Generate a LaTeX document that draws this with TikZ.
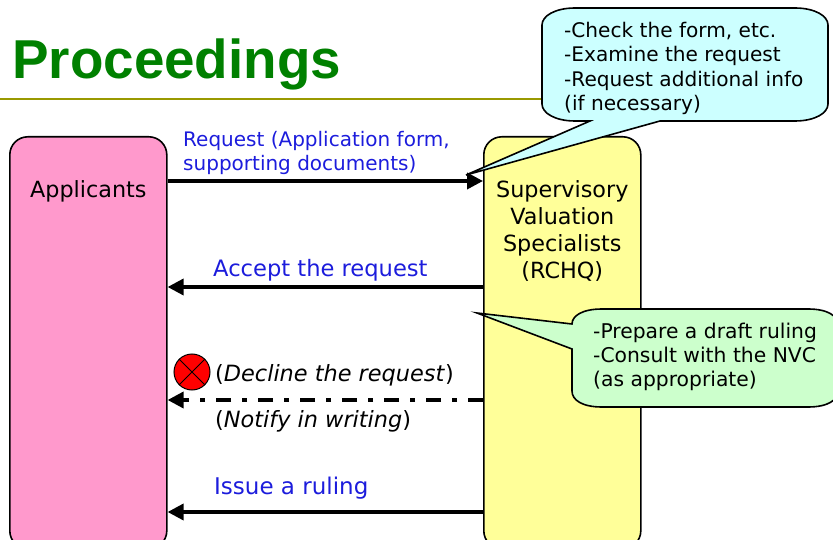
\documentclass[tikz,border=0pt]{standalone}
\usepackage{fontspec}
\setmainfont{DejaVu Sans}
\newfontfamily\titlefont{Liberation Sans}
\usetikzlibrary{arrows.meta,positioning}
\definecolor{pinkbox}{RGB}{255,153,204}
\definecolor{yellowbox}{RGB}{255,255,153}
\definecolor{cyannote}{RGB}{204,255,255}
\definecolor{greennote}{RGB}{204,255,204}
\definecolor{bluetext}{RGB}{28,28,220}
\definecolor{rulecolor}{RGB}{153,153,0}
\definecolor{titlegreen}{RGB}{0,128,0}
\tikzset{
  actor/.style={draw, line width=1.6pt, rounded corners=18pt, minimum width=157pt, minimum height=412pt, anchor=north west},
  msg/.style={line width=3.6pt, -{Triangle[length=16pt,width=16pt]}, shorten >=0pt},
  note/.style={draw, line width=1.6pt},
  bluelabel/.style={text=bluetext, font=\fontsize{20}{24}\selectfont, anchor=west, align=left, inner sep=0pt},
  blacklabel/.style={text=black, font=\fontsize{22.4}{26}\selectfont, anchor=west, inner sep=0pt},
  notetext/.style={font=\fontsize{20.1}{24.5}\selectfont, anchor=north west, align=left, inner sep=0pt}
}
\begin{document}
\begin{tikzpicture}[x=1pt, y=-1pt]
  \useasboundingbox (0,0) rectangle (833,540);
  \clip (0,0) rectangle (833,540);
  \node[anchor=base west, inner sep=0pt, text=titlegreen, font=\titlefont\bfseries\fontsize{54.8}{60}\selectfont] (title) at (12,79) {Proceedings};
  \coordinate (ruleL) at (0,99);
  \coordinate (ruleR) at (560,99);
  \draw[rulecolor, line width=1.8pt] (ruleL) -- (ruleR);

  \node[actor, fill=pinkbox] (applicants) at (9,136) {};
  \node[actor, fill=yellowbox] (specialists) at (483,136) {};
  \node[font=\fontsize{22.3}{27}\selectfont, below = 44pt of applicants.north, inner sep=0pt] (applabel) {Applicants};
  \node[font=\fontsize{22.3}{27}\selectfont, align=center, below = 44pt of specialists.north, inner sep=0pt] (speclabel) {Supervisory\\Valuation\\Specialists\\(RCHQ)};

  \draw[msg] (applicants.east |- 0,181) -- (specialists.west |- 0,181);
  \draw[msg] (specialists.west |- 0,287) -- (applicants.east |- 0,287);
  \draw[msg, dash pattern=on 15pt off 11pt on 5pt off 11pt] (specialists.west |- 0,400) -- (applicants.east |- 0,400);
  \draw[msg] (specialists.west |- 0,512) -- (applicants.east |- 0,512);

  \node[bluelabel] (request) at (183,153) {Request (Application form,\\supporting documents)};
  \node[bluelabel, font=\fontsize{22.6}{26}\selectfont] (accept) at (213,270) {Accept the request};
  \node[blacklabel] (decline) at (215,375) {(\textit{Decline the request})};
  \node[blacklabel] (notify) at (215,421) {(\textit{Notify in writing})};
  \node[bluelabel, font=\fontsize{23}{26}\selectfont] (issue) at (214,488) {Issue a ruling};

  \node[circle, draw, line width=1pt, fill=red, minimum size=36pt, inner sep=0pt] (stop) at (192,372) {};
  \draw[line width=0.8pt] (stop.north west) -- (stop.south east);
  \draw[line width=0.8pt] (stop.north east) -- (stop.south west);

  \draw[note, fill=cyannote] (590,121) -- (466,175) -- (660,121) -- (795,121)
    .. controls (815,121) and (828,113) .. (828,104) -- (828,25)
    .. controls (828,16) and (815,8) .. (795,8) -- (575,8)
    .. controls (555,8) and (542,16) .. (542,25) -- (542,104)
    .. controls (542,113) and (555,121) .. (575,121) -- cycle;
  \node[notetext] (checklist) at (564,22) {-Check the form, etc.\\-Examine the request\\-Request additional info\\(if necessary)};

  \draw[note, fill=greennote] (572,324) -- (477,313) -- (572,349) -- (572,391)
    .. controls (572,400) and (582,407) .. (602,407) -- (808,407)
    .. controls (828,407) and (838,400) .. (838,391) -- (838,325)
    .. controls (838,316) and (828,309) .. (808,309) -- (602,309)
    .. controls (582,309) and (572,316) .. (572,324) -- cycle;
  \node[notetext, font=\fontsize{20.3}{24}\selectfont] (draftlist) at (593,322.5) {-Prepare a draft ruling\\-Consult with the NVC\\(as appropriate)};
\end{tikzpicture}
\end{document}
